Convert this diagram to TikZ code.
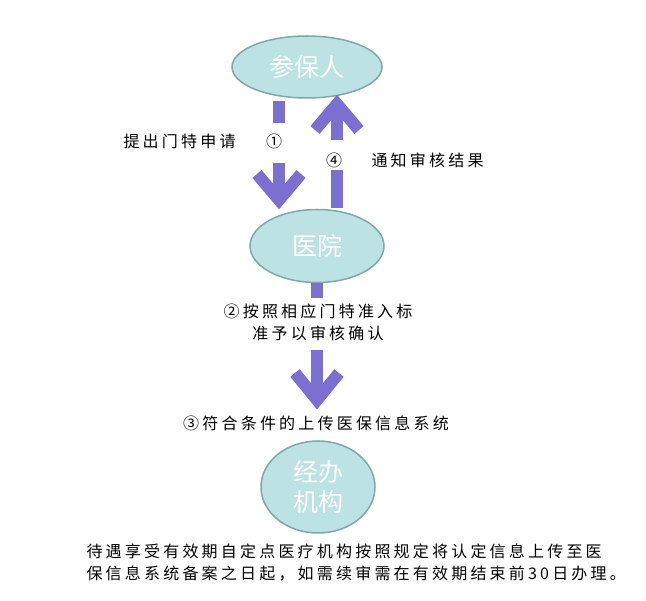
\documentclass[tikz,border=0pt]{standalone}
\usepackage{fontspec}
\newfontfamily\cjk{Noto Sans CJK SC}
\newfontfamily\cjks[LetterSpace=20]{Noto Sans CJK SC}
\usetikzlibrary{shapes.geometric}
\definecolor{ellfill}{HTML}{BDE2E3}
\definecolor{elldraw}{HTML}{7FA8A8}
\definecolor{arr}{HTML}{7B70D2}
\begin{document}
\begin{tikzpicture}[x=1pt,y=-1pt,
  ell/.style={ellipse,draw=elldraw,line width=1.5pt,fill=ellfill,text=white,font=\cjk\fontsize{25}{30}\selectfont,inner sep=0pt,align=center},
  lbl/.style={font=\cjks\fontsize{16}{22}\selectfont,text=black,align=center},
  shaft/.style={arr,line width=12pt},
  head/.style={arr,line width=12pt,line join=miter}]
\useasboundingbox (0,0) rectangle (646,601);
\node[ell,minimum width=150,minimum height=62] (p) at (307,67) {参保人};
\node[ell,minimum width=134,minimum height=73] (h) at (317,246) {医院};
\node[ell,minimum width=114,minimum height=92] (j) at (318,487) {经办\\机构};
% arrow 1 down
\coordinate (a1) at (279,101);
\coordinate (a1t) at (279,200);
\draw[shaft] (a1) -- (279,123);
\draw[shaft] (279,163) -- (a1t);
\draw[head] (257,174) -- (a1t) -- (301,174);
% arrow 4 up
\coordinate (a4) at (337,208);
\coordinate (a4t) at (337,104);
\draw[shaft] (a4) -- (337,170);
\draw[shaft] (337,140) -- (a4t);
\draw[head] (315,130) -- (a4t) -- (359,130);
% arrow 2 down
\draw[shaft] (h.south) -- (317,298);
\coordinate (a2t) at (317,400);
\draw[shaft] (317,350) -- (a2t);
\draw[head] (295,373) -- (a2t) -- (339,373);
\node[lbl,anchor=west] (l1) at (120,141) {提出门特申请};
\node[lbl] (c1) at (274,141) {①};
\node[lbl] (c4) at (334,160) {④};
\node[lbl,anchor=west] (l4) at (368,160) {通知审核结果};
\node[lbl] (l2) at (318,322) {②按照相应门特准入标\\准予以审核确认};
\node[lbl] (l3) at (316,423) {③符合条件的上传医保信息系统};
\node[lbl,anchor=north west,align=left] (l5) at (83,540) {待遇享受有效期自定点医疗机构按照规定将认定信息上传至医\\保信息系统备案之日起，如需续审需在有效期结束前30日办理。};
\end{tikzpicture}
\end{document}
